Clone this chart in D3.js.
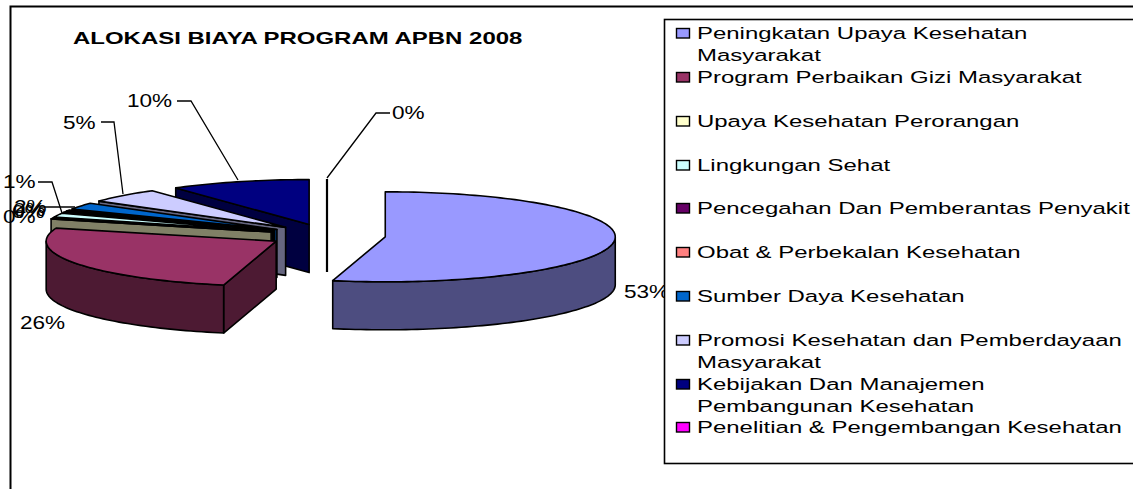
<!DOCTYPE html>
<html>
<head>
<meta charset="utf-8">
<script src="https://cdn.jsdelivr.net/npm/d3@7"></script>
<style>
  html, body { margin: 0; padding: 0; background: #fff; overflow: hidden; }
  text { font-family: "Liberation Sans", Arial, sans-serif; fill: #000; }
</style>
</head>
<body>
<div id="chart"></div>
<script>
const legendLines = [
    ["Peningkatan Upaya Kesehatan", "Masyarakat"],
    ["Program Perbaikan Gizi Masyarakat"],
    ["Upaya Kesehatan Perorangan"],
    ["Lingkungan Sehat"],
    ["Pencegahan Dan Pemberantas Penyakit"],
    ["Obat & Perbekalan Kesehatan"],
    ["Sumber Daya Kesehatan"],
    ["Promosi Kesehatan dan Pemberdayaan", "Masyarakat"],
    ["Kebijakan Dan Manajemen", "Pembangunan Kesehatan"],
    ["Penelitian & Pengembangan Kesehatan"]
];
const values = [53.4, 25.9, 0.45, 1.45, 0.45, 0.45, 2.4, 5.2, 9.8, 0];
const colors = ["#9999FF", "#993366", "#FFFFCC", "#CCFFFF", "#660066", "#FF8080", "#0066CC", "#CCCCFF", "#000080", "#FF00FF"];
const title = "ALOKASI BIAYA PROGRAM APBN 2008";

const width = 1133, height = 489;
const depth = 48, explode = 0.255;

// unit circle -> screen, the pie is a flat ellipse
const x = d3.scaleLinear().domain([-1, 1]).range([97, 557]);
const y = d3.scaleLinear().domain([-1, 1]).range([280.5, 190.5]);

const svg = d3.select("#chart").append("svg")
    .attr("width", width)
    .attr("height", height)
    .style("display", "block");

// the original is stretched sideways, so text gets a horizontal scale
function wideText(parent, str, tx, ty, size, sx)
{
    return parent.append("text")
        .attr("transform", "translate(" + tx + "," + ty + ") scale(" + sx + ",1)")
        .attr("font-size", size)
        .text(str);
}

// outer frame, only top and left are inside the picture
svg.append("path")
    .attr("d", "M10.5,489V6.5H1133")
    .attr("fill", "none")
    .attr("stroke", "#000")
    .attr("stroke-width", 2);

wideText(svg, title, 73, 44, 16, 1.5).attr("font-weight", "bold");

let slices = d3.pie().sort(null)(values).map((d, i) => {
    let mid = (d.startAngle + d.endAngle) / 2;
    return {
        i: i,
        a0: d.startAngle,
        a1: d.endAngle,
        ox: explode * Math.sin(mid),
        oy: explode * Math.cos(mid)
    };
});

function rim(s, a)
{
    return [x(s.ox + Math.sin(a)), y(s.oy + Math.cos(a))];
}

function apex(s)
{
    return [x(s.ox), y(s.oy)];
}

function sweep(s, a0, a1)
{
    let n = Math.max(2, Math.ceil((a1 - a0) * 40));
    return d3.range(n + 1).map((k) => rim(s, a0 + (a1 - a0) * k / n));
}

const line = d3.line();
const down = (p) => [p[0], p[1] + depth];

let pieG = svg.append("g")
    .attr("stroke", "#000")
    .attr("stroke-width", 1.6)
    .attr("stroke-linejoin", "round");

// paint back to front, the zero slice is drawn last as an edge
let order = [8, 7, 6, 5, 4, 3, 2, 1, 0];

order.forEach(function (k) {
    let s = slices[k];
    let dark = d3.rgb(colors[k]);
    dark = d3.rgb(dark.r / 2, dark.g / 2, dark.b / 2).formatHex();

    if (Math.sin(s.a0) < 0) {
        let p = [apex(s), rim(s, s.a0)];
        pieG.append("path")
            .attr("d", line([p[0], p[1], down(p[1]), down(p[0])]) + "Z")
            .attr("fill", dark);
    }
    if (Math.sin(s.a1) > 0) {
        let p = [apex(s), rim(s, s.a1)];
        pieG.append("path")
            .attr("d", line([p[0], p[1], down(p[1]), down(p[0])]) + "Z")
            .attr("fill", dark);
    }
    let from = Math.max(s.a0, Math.PI / 2), to = Math.min(s.a1, 3 * Math.PI / 2);
    if (from < to) {
        let arc = sweep(s, from, to);
        pieG.append("path")
            .attr("d", line(arc.concat(arc.map(down).reverse())) + "Z")
            .attr("fill", dark);
    }
    pieG.append("path")
        .attr("d", line([apex(s)].concat(sweep(s, s.a0, s.a1))) + "Z")
        .attr("fill", colors[k]);
});

let zero = slices[9];
pieG.append("path")
    .attr("d", line([rim(zero, zero.a0), down(apex(zero))]))
    .attr("stroke-width", 2.2)
    .attr("fill", "none");

// data labels, placed by hand like the original overlaps
const labelText = values.map((v) => d3.format(".0f")(v) + "%");
const labelPos = [[624, 298], [20, 329], [3, 223], [3, 188], [12, 218], [13, 216], [14, 213], [63, 129], [127, 107], [392, 119]];
const leaderPts = [
    null,
    null,
    null,
    [[38, 182], [52, 182], [62, 213]],
    null,
    null,
    [[40, 207], [75, 207]],
    [[101, 122], [114, 122], [123, 194]],
    [[177, 101], [191, 101], [238, 180]],
    [[390, 113], [376, 113], [327, 178]]
];

leaderPts.forEach(function (pts) {
    if (!pts) return;
    svg.append("path")
        .attr("d", line(pts))
        .attr("fill", "none")
        .attr("stroke", "#000")
        .attr("stroke-width", 1.3);
});

labelText.forEach(function (t, i) {
    wideText(svg, t, labelPos[i][0], labelPos[i][1], 17.5, 1.29);
});

// legend
let legend = svg.append("g");

legend.append("rect")
    .attr("x", 664.5)
    .attr("y", 19.5)
    .attr("width", 480)
    .attr("height", 444)
    .attr("fill", "#fff")
    .attr("stroke", "#000")
    .attr("stroke-width", 1.6);

const rowY = [39, 83, 127, 171, 214, 258, 302, 346, 390, 433];

legendLines.forEach(function (lines, i) {
    let yy = rowY[i];
    legend.append("rect")
        .attr("x", 676.5)
        .attr("y", yy - 10.5)
        .attr("width", 13)
        .attr("height", 9.5)
        .attr("fill", colors[i])
        .attr("stroke", "#000")
        .attr("stroke-width", 1.4);
    lines.forEach(function (t, j) {
        wideText(legend, t, 697, yy + j * 22, 17, 1.41);
    });
});
</script>
</body>
</html>
